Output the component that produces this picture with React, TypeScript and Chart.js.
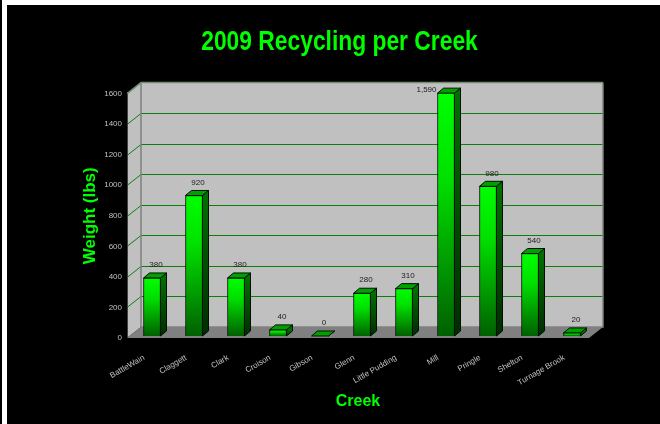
import React, { useEffect, useRef } from "react";
import { Chart, registerables } from "chart.js";

Chart.register(...registerables);

const titleText = "2009 Recycling per Creek";
const xTitle = "Creek";
const yTitle = "Weight (lbs)";
const categories = ["BattleWain", "Claggett", "Clark", "Croison", "Gibson", "Glenn", "Little Pudding", "Mill", "Pringle", "Shelton", "Turnage Brook"];
const weights = [380, 920, 380, 40, 0, 280, 310, 1590, 980, 540, 20];
const yMax = 1600;
const yStep = 200;

const GREEN = "#00ff00";
const FONT = "'Liberation Sans', Arial, sans-serif";
const TITLE_SQUEEZE = 0.815;
const TITLE_CENTER = 339.5;
const WALL_DX = 14;
const WALL_DY = 11;
const BAR_DX = 4;
const BAR_DY = -2;
const DEPTH_X = 6;
const DEPTH_Y = 5;

const poly = (ctx: CanvasRenderingContext2D, pts: number[][], fill: any, stroke?: string, lw = 1) => {
  ctx.beginPath();
  pts.forEach((p, i) => (i ? ctx.lineTo(p[0], p[1]) : ctx.moveTo(p[0], p[1])));
  ctx.closePath();
  if (fill) {
    ctx.fillStyle = fill;
    ctx.fill();
  }
  if (stroke) {
    ctx.strokeStyle = stroke;
    ctx.lineWidth = lw;
    ctx.stroke();
  }
};

const stage = {
  id: "stage",
  afterLayout(chart: any) {
    const block = chart.titleBlock;
    block.left = 19;
    block.right = 660;
    if (!block.__squeezed) {
      block.__squeezed = true;
      const draw = block.draw.bind(block);
      block.draw = (...args: any[]) => {
        const c = chart.ctx;
        c.save();
        c.translate(TITLE_CENTER, 0);
        c.scale(TITLE_SQUEEZE, 1);
        c.translate(-TITLE_CENTER, 0);
        draw(...args);
        c.restore();
      };
    }
  },
  beforeDraw(chart: any) {
    const { ctx, width, height, chartArea: a, scales } = chart;
    ctx.save();
    ctx.fillStyle = "#000";
    ctx.fillRect(0, 0, width, height);
    ctx.fillStyle = "#fff";
    ctx.fillRect(2, 0, 5, height);
    ctx.fillRect(2, 0, width, 5);
    const { left: l, right: r, top: t, bottom: b } = a;
    const dx = WALL_DX, dy = WALL_DY;
    poly(ctx, [[l, t], [l + dx, t - dy], [l + dx, b - dy], [l, b]], "#c0c0c0");
    poly(ctx, [[l + dx, t - dy], [r + dx, t - dy], [r + dx, b - dy], [l + dx, b - dy]], "#c0c0c0");
    poly(ctx, [[l, b], [l + dx, b - dy], [r + dx, b - dy], [r, b]], "#808080");
    scales.y.ticks.forEach((tick: any) => {
      if (tick.value === 0 || tick.value === yMax) return;
      const y = Math.round(scales.y.getPixelForValue(tick.value)) + 0.5;
      ctx.strokeStyle = "#0a800a";
      ctx.lineWidth = 1;
      ctx.beginPath();
      ctx.moveTo(l, y);
      ctx.lineTo(l + dx, y - dy);
      ctx.lineTo(r + dx, y - dy);
      ctx.stroke();
    });
    ctx.strokeStyle = "#808080";
    ctx.lineWidth = 1.5;
    ctx.beginPath();
    ctx.moveTo(l + dx, b - dy);
    ctx.lineTo(l + dx, t - dy);
    ctx.moveTo(l + dx, b - dy);
    ctx.lineTo(r + dx, b - dy);
    ctx.lineTo(r + dx, t - dy);
    ctx.stroke();
    ctx.strokeStyle = "#6f8f6f";
    ctx.beginPath();
    ctx.moveTo(l, t);
    ctx.lineTo(l + dx, t - dy);
    ctx.lineTo(r + dx, t - dy);
    ctx.stroke();
    ctx.strokeStyle = "#404040";
    ctx.lineWidth = 1;
    ctx.beginPath();
    ctx.moveTo(l + 0.5, t);
    ctx.lineTo(l + 0.5, b);
    ctx.stroke();
    ctx.restore();
  },
  beforeDatasetDraw(chart: any) {
    const { ctx } = chart;
    ctx.save();
    ctx.translate(BAR_DX, BAR_DY);
    chart.getDatasetMeta(0).data.forEach((bar: any) => {
      const x1 = bar.x + bar.width / 2;
      const x0 = bar.x - bar.width / 2;
      const top = bar.y;
      const base = bar.base;
      const side = ctx.createLinearGradient(0, top, 0, base + 0.01);
      side.addColorStop(0, "#007000");
      side.addColorStop(1, "#002c00");
      poly(ctx, [[x1, top], [x1 + DEPTH_X, top - DEPTH_Y], [x1 + DEPTH_X, base - DEPTH_Y], [x1, base]], side, "#001000");
      poly(ctx, [[x0, top], [x0 + DEPTH_X, top - DEPTH_Y], [x1 + DEPTH_X, top - DEPTH_Y], [x1, top]], "#00a000", "#001000");
    });
  },
  afterDatasetDraw(chart: any) {
    const { ctx, chartArea: a } = chart;
    ctx.font = `8px ${FONT}`;
    ctx.fillStyle = "#202020";
    ctx.textBaseline = "middle";
    chart.getDatasetMeta(0).data.forEach((bar: any, i: number) => {
      const text = weights[i].toLocaleString("en-US");
      const y = bar.y - 13;
      if (y < a.top - WALL_DY) {
        ctx.textAlign = "right";
        ctx.fillText(text, bar.x - bar.width / 2 - 1, bar.y - 3);
      } else {
        ctx.textAlign = "center";
        ctx.fillText(text, bar.x + 4, y);
      }
    });
    ctx.restore();
  },
};

export default function App() {
  const ref = useRef<HTMLCanvasElement>(null);
  useEffect(() => {
    const chart = new Chart(ref.current!, {
      type: "bar",
      data: {
        labels: categories,
        datasets: [
          {
            data: weights,
            clip: false,
            barThickness: 17,
            borderColor: "#001000",
            borderWidth: 1,
            backgroundColor: (c: any) => {
              const scale = c.chart.scales && c.chart.scales.y;
              if (!scale || c.type !== "data") return GREEN;
              const top = scale.getPixelForValue(c.raw);
              const base = scale.getPixelForValue(0);
              if (!isFinite(top) || !isFinite(base)) return GREEN;
              const g = c.chart.ctx.createLinearGradient(0, top, 0, base + 0.01);
              g.addColorStop(0, "#00ff00");
              g.addColorStop(0.35, "#00e000");
              g.addColorStop(1, "#006000");
              return g;
            },
          } as any,
        ],
      },
      options: {
        responsive: false,
        animation: false,
        layout: { padding: { left: 0, right: 71, top: 0, bottom: 0 } },
        plugins: {
          legend: { display: false },
          tooltip: { enabled: false },
          title: {
            display: true,
            text: titleText,
            color: GREEN,
            font: { family: FONT, size: 28, weight: "bold" },
            padding: { top: 25, bottom: 35 },
          },
        },
        scales: {
          x: {
            afterFit: (s: any) => {
              s.height = 86;
            },
            grid: { display: false, drawTicks: false },
            border: { display: false },
            ticks: {
              color: "#c0c0c0",
              font: { family: FONT, size: 8 },
              minRotation: 30,
              maxRotation: 30,
              autoSkip: false,
              padding: 15,
              labelOffset: -4,
            },
            title: {
              display: true,
              text: xTitle,
              color: GREEN,
              font: { family: FONT, size: 16, weight: "bold" },
              padding: { top: 0, bottom: 13 },
            },
          },
          y: {
            min: 0,
            max: yMax,
            afterFit: (s: any) => {
              s.width = 127;
            },
            grid: { display: false, drawTicks: false },
            border: { display: false },
            ticks: {
              stepSize: yStep,
              color: "#c0c0c0",
              font: { family: FONT, size: 8 },
              padding: 5,
              callback: (v: any) => String(v),
            },
            title: {
              display: true,
              text: yTitle,
              color: GREEN,
              font: { family: FONT, size: 17, weight: "bold" },
              padding: { top: 80, bottom: 0 },
            },
          },
        },
      } as any,
      plugins: [stage],
    });
    return () => chart.destroy();
  }, []);
  return (
    <canvas
      ref={ref}
      width={660}
      height={424}
      style={{ position: "fixed", left: 0, top: 0, width: 660, height: 424, display: "block" }}
    />
  );
}
